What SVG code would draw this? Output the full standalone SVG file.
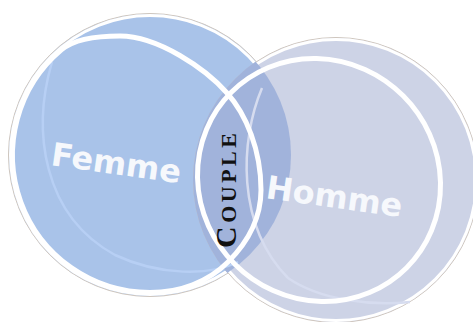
<svg xmlns="http://www.w3.org/2000/svg" width="473" height="322" viewBox="0 0 473 322">
  <style>
    .edge { stroke: #cfc6bd; stroke-width: 1; }
    .left-fill { fill: #a9c3e9; }
    .right-fill { fill: #cdd3e6; }
    .over-fill { fill: #a1b3db; }
    .rim { fill: none; stroke: #ffffff; stroke-width: 3; }
    .ring { fill: none; stroke: #ffffff; stroke-width: 5; }
    .faint { fill: none; stroke-width: 2.5; }
    .label { font-family: "DejaVu Sans", "Verdana", sans-serif; font-weight: bold; font-size: 32px; fill: #f6f8fc; }
    .couple { font-family: "Liberation Serif", "Times New Roman", serif; font-weight: bold; fill: #111111; }
  </style>
  <defs>
    <clipPath id="leftClip"><circle cx="150" cy="155" r="141"/></clipPath>
  </defs>
  <rect width="473" height="322" fill="#ffffff"/>

  <g id="femme">
    <circle cx="150" cy="155" r="141.5" class="edge left-fill"/>
    <circle cx="150" cy="155" r="139.5" class="rim"/>
  </g>

  <g id="homme">
    <circle cx="336" cy="180" r="142.5" class="edge right-fill"/>
    <circle cx="336" cy="180" r="140.5" class="rim"/>
  </g>

  <g id="overlap">
    <circle cx="336" cy="180" r="143" class="over-fill" clip-path="url(#leftClip)"/>
  </g>

  <g id="faint-lines">
    <path class="faint" stroke="#b7cff4" d="M 52 62 C 32 130, 42 215, 115 255 C 160 276, 210 276, 238 262"/>
    <path class="faint" stroke="#d6dcef" d="M 262 88 C 240 140, 236 225, 288 278 C 320 300, 370 306, 410 302"/>
  </g>

  <g id="couple">
    <path class="ring" d="M 120 36 C 158 36, 206 69, 227 93 C 246 114, 261 150, 261 190 C 261 222, 244 246, 228 262 C 208 282, 180 292.5, 150 292.5 A 137.5 137.5 0 0 1 61.6 49.7 C 75.4 38.1, 100 36, 120 36 Z"/>
    <ellipse cx="319" cy="180" rx="124" ry="119" transform="rotate(45 319 180)" class="ring"/>
    <text class="couple" transform="translate(236 248) rotate(-90)" letter-spacing="3.5"><tspan font-size="30">C</tspan><tspan font-size="22">OUPLE</tspan></text>
  </g>

  <text class="label" x="50" y="165" transform="rotate(8 50 165)">Femme</text>
  <text class="label" x="265" y="198" transform="rotate(8 265 198)">Homme</text>
</svg>
